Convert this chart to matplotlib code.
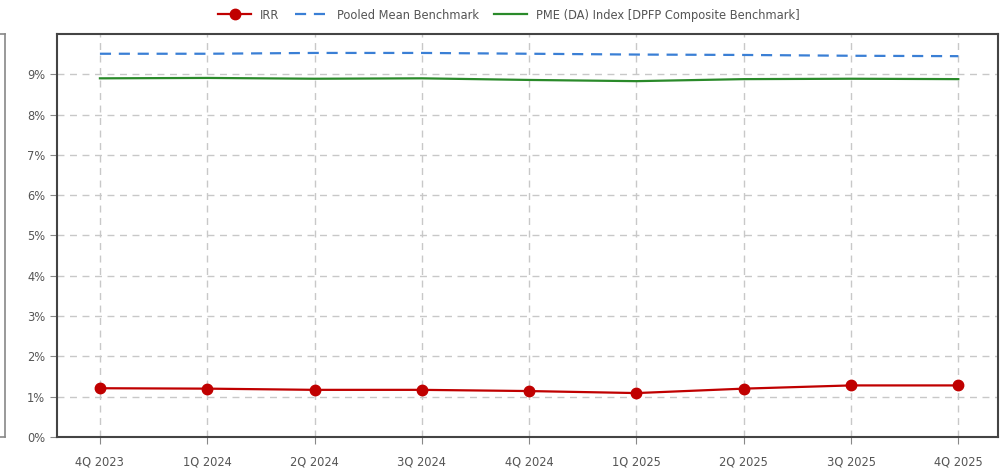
import matplotlib
matplotlib.use("Agg")
import matplotlib.pyplot as plt
from matplotlib import font_manager

# procura uma fonte estreita instalada
fonte = None
for f in font_manager.fontManager.ttflist:
    nome = (f.name + " " + f.fname).lower()
    if ("narrow" in nome or "condensed" in nome) and "bold" not in nome and "italic" not in nome and "oblique" not in nome:
        fonte = f
        break

if fonte is not None:
    font_manager.fontManager.addfont(fonte.fname)
    plt.rcParams["font.family"] = [fonte.name, "DejaVu Sans"]
    if fonte.stretch not in ("normal", 500):
        plt.rcParams["font.stretch"] = fonte.stretch
else:
    plt.rcParams["font.family"] = ["Roboto", "DejaVu Sans"]

####################################################################################################
# dados

trimestres = ["4Q 2023", "1Q 2024", "2Q 2024", "3Q 2024", "4Q 2024",
              "1Q 2025", "2Q 2025", "3Q 2025", "4Q 2025"]
irr = [1.21, 1.20, 1.17, 1.17, 1.14, 1.09, 1.20, 1.28, 1.28]
pooled_mean = [9.51, 9.51, 9.53, 9.53, 9.51, 9.49, 9.48, 9.46, 9.45]
pme = [8.90, 8.91, 8.89, 8.90, 8.86, 8.83, 8.88, 8.89, 8.88]
yticks = [0, 1, 2, 3, 4, 5, 6, 7, 8, 9]

####################################################################################################
# figura

fig = plt.figure(figsize=(10.08, 4.72), dpi=100)
W, H = 1008, 472

cinza_txt = "#555555"
cinza_spine = "#444444"

# pedaco do painel vizinho cortado na borda esquerda
ax_viz = fig.add_axes([-0.5, (H - 437) / H, 0.5 + 5 / W, 403 / H])
ax_viz.set_ylim(0, 403)
ax_viz.set_yticks([437 - y for y in [53, 99, 145, 190, 236, 281, 326, 367, 412]])
ax_viz.set_yticklabels([])
ax_viz.set_xticks([])
ax_viz.tick_params(axis="y", length=4, color="#888888")
for s in ax_viz.spines.values():
    s.set_color("#888888")
    s.set_linewidth(1.2)

# painel principal
ax = fig.add_axes([57 / W, (H - 437) / H, (998 - 57) / W, 403 / H])
x = list(range(len(trimestres)))

ax.plot(x, irr, color="#c00000", marker="o", markersize=7.5, linewidth=1.6,
        label="IRR", zorder=4)
ax.plot(x, pooled_mean, color="#3a7fd5", linestyle=(0, (5, 3.5)), linewidth=1.6,
        label="Pooled Mean Benchmark", zorder=3)
ax.plot(x, pme, color="#2a8a2a", linewidth=1.6,
        label="PME (DA) Index [DPFP Composite Benchmark]", zorder=3)

ax.set_xlim(-0.4, 8.37)
ax.set_ylim(0, 10)
ax.set_xticks(x)
ax.set_xticklabels(trimestres)
ax.set_yticks(yticks)
ax.set_yticklabels([f"{v}%" for v in yticks])

ax.grid(True, color="#c8c8c8", linestyle=(0, (5, 4)), linewidth=1.0)
ax.tick_params(axis="both", length=5, color="#888888", labelcolor=cinza_txt,
               labelsize=9.2)
ax.tick_params(axis="x", pad=8)
for s in ax.spines.values():
    s.set_color(cinza_spine)
    s.set_linewidth(1.5)

leg = fig.legend(loc="upper center", bbox_to_anchor=(0.505, 1.006), ncol=3,
                 frameon=False, fontsize=9.2, handlelength=2.6,
                 columnspacing=1.2, handletextpad=0.7)
for t in leg.get_texts():
    t.set_color(cinza_txt)

fig.savefig("out.png", dpi=100)
